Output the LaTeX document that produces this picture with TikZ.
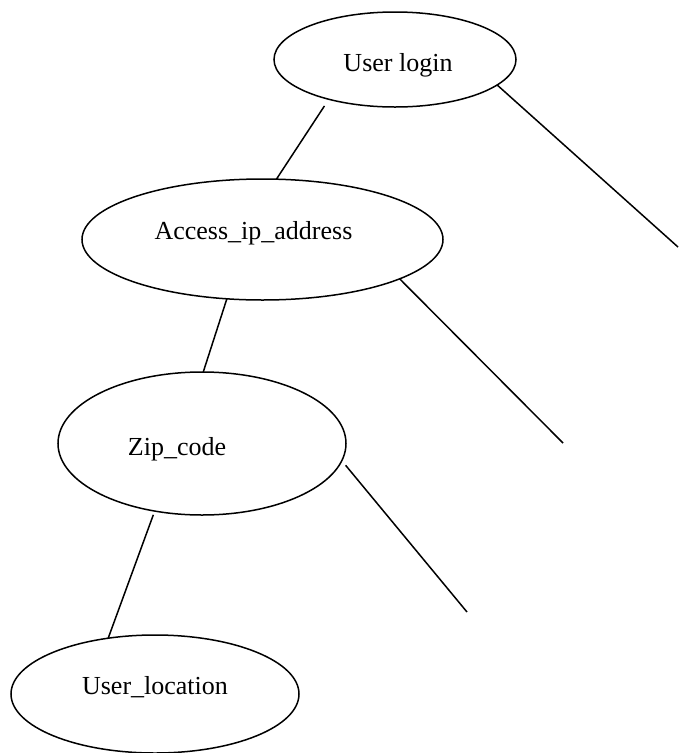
\documentclass[tikz,border=0pt]{standalone}
\usepackage{fontspec}
\setmainfont{Liberation Serif}
\usetikzlibrary{shapes.geometric}
\tikzset{ent/.style={draw,ellipse,inner sep=0pt,outer sep=0pt},
	lbl/.style={anchor=base,font=\fontsize{26}{30}\selectfont}}
\begin{document}
\begin{tikzpicture}[x=1pt,y=-1pt,line width=1.5pt]
			\useasboundingbox (0,0) rectangle (678,753);
			\node[ent,minimum width=242pt,minimum height=95pt] (login) at (395,59.5) {};
			\node[ent,minimum width=361pt,minimum height=121pt] (access) at (262.5,239.5) {};
			\node[ent,minimum width=288pt,minimum height=143pt] (zip) at (202,443.5) {};
			\node[ent,minimum width=288pt,minimum height=118pt] (loc) at (155,694) {};
			\node[lbl] (logint) at ([shift={(3,11.5)}]login.center) {User login};
			\node[lbl] (accesst) at ([shift={(-9,-0.5)}]access.center) {Access\_ip\_address};
			\node[lbl] (zipt) at ([shift={(-25,11.5)}]zip.center) {Zip\_code};
			\node[lbl] (loct) at ([shift={(0,0)}]loc.center) {User\_location};
			\coordinate (c1) at (678,247);
			\coordinate (c2) at (563,443);
			\coordinate (c3) at (467,612);
			\draw[shorten <=8pt] (login.211)--(access.77);
			\draw (login.346)--(c1);
			\draw (access.239)--(zip.89);
			\draw (access.344)--(c2);
			\draw[shorten <=4pt] (zip.235)--(loc.130);
			\draw[shorten <=6pt] (zip.353)--(c3);
		\end{tikzpicture}
\end{document}
